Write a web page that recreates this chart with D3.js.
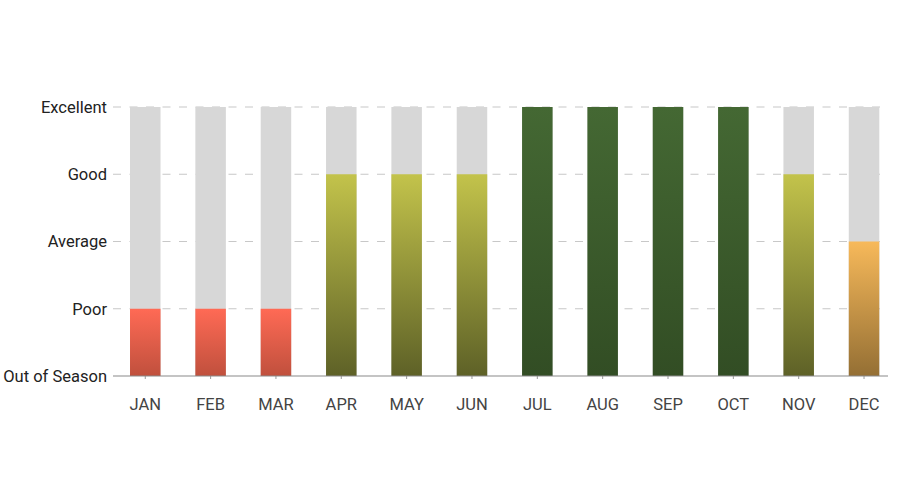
<!DOCTYPE html>
<html>
<head>
<meta charset="utf-8">
<script src="https://cdn.jsdelivr.net/npm/d3@7"></script>
<style>
  body { margin: 0; background: #fff; }
  svg { font-family: Roboto, sans-serif; }
</style>
</head>
<body>
<svg id="chart" width="900" height="500"></svg>
<script>
"use strict";

const months = ['JAN', 'FEB', 'MAR', 'APR', 'MAY', 'JUN', 'JUL', 'AUG', 'SEP', 'OCT', 'NOV', 'DEC'];
const ratings = [1, 1, 1, 3, 3, 3, 4, 4, 4, 4, 3, 2];
const levelLabels = ['Out of Season', 'Poor', 'Average', 'Good', 'Excellent'];

// gradient (top, bottom) per rating level
const levelColors = {
    1: ['#ff6a55', '#c0503d'],
    2: ['#f7b95a', '#946f34'],
    3: ['#c3c34b', '#5e6127'],
    4: ['#446833', '#324d24']
};

const axisLeft = 113, axisRight = 888;
const topY = 107, bottomY = 376;

const svg = d3.select("#chart");

const xScale = d3.scaleBand()
    .domain(months)
    .range([112.5, 896.8])
    .paddingInner(0.533)
    .paddingOuter(0.268);

const yScale = d3.scaleLinear()
    .domain([0, levelLabels.length - 1])
    .range([bottomY, topY]);

// gradients
const defs = svg.append("defs");
Object.keys(levelColors).forEach(function(lvl) {
    let g = defs.append("linearGradient")
        .attr("id", "grad" + lvl)
        .attr("x1", 0).attr("y1", 0).attr("x2", 0).attr("y2", 1);
    g.append("stop").attr("offset", "0%").attr("stop-color", levelColors[lvl][0]);
    g.append("stop").attr("offset", "100%").attr("stop-color", levelColors[lvl][1]);
});

// dashed gridlines
svg.append("g")
    .selectAll("line")
    .data(d3.range(1, levelLabels.length))
    .join("line")
        .attr("x1", axisLeft)
        .attr("x2", axisRight)
        .attr("y1", d => yScale(d))
        .attr("y2", d => yScale(d))
        .attr("stroke", "#c8c8c8")
        .attr("stroke-width", 1.2)
        .attr("stroke-dasharray", "8,8.5");

// background bars
svg.append("g")
    .selectAll("rect")
    .data(months)
    .join("rect")
        .attr("x", d => xScale(d))
        .attr("width", xScale.bandwidth())
        .attr("y", yScale(levelLabels.length - 1))
        .attr("height", yScale(0) - yScale(levelLabels.length - 1))
        .attr("fill", "#d7d7d7");

// rating bars
svg.append("g")
    .selectAll("rect")
    .data(months.map((m, i) => ({month: m, value: ratings[i]})))
    .join("rect")
        .attr("x", d => xScale(d.month))
        .attr("width", xScale.bandwidth())
        .attr("y", d => yScale(d.value))
        .attr("height", d => yScale(0) - yScale(d.value))
        .attr("fill", d => "url(#grad" + d.value + ")");

// y labels
svg.append("g")
    .selectAll("text")
    .data(levelLabels)
    .join("text")
        .attr("x", 107)
        .attr("y", (d, i) => yScale(i))
        .attr("dy", "0.35em")
        .attr("text-anchor", "end")
        .attr("font-size", 16.5)
        .attr("fill", "#222")
        .text(d => d);

// x axis
const xAxis = svg.append("g")
    .attr("transform", `translate(0,${bottomY})`)
    .call(d3.axisBottom(xScale).tickSize(3).tickPadding(19).tickSizeOuter(0));
xAxis.select(".domain").remove();
xAxis.selectAll(".tick line").attr("stroke", "#999");
xAxis.selectAll(".tick text")
    .attr("font-size", 16.5)
    .attr("font-family", "Roboto, sans-serif")
    .attr("fill", "#444");

svg.append("line")
    .attr("x1", axisLeft)
    .attr("x2", axisRight)
    .attr("y1", bottomY)
    .attr("y2", bottomY)
    .attr("stroke", "#8a8a8a")
    .attr("stroke-width", 1.2);
</script>
</body>
</html>
